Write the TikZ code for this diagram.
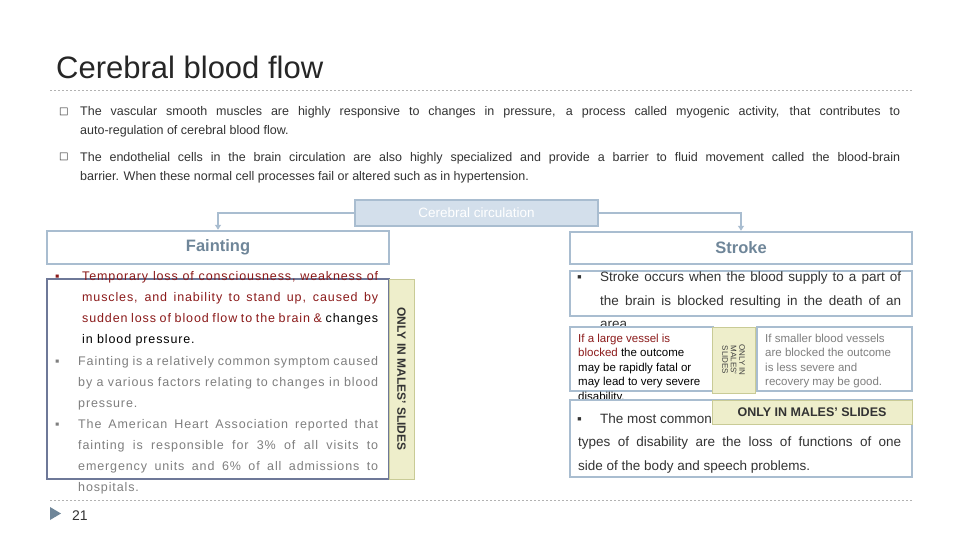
\documentclass[tikz,border=0pt]{standalone}
\usepackage{fontspec}
\setmainfont{Liberation Sans}
\newfontfamily\dejavu{DejaVu Sans}
\newfontfamily\spaced[LetterSpace=7]{Liberation Sans}
\usetikzlibrary{arrows.meta}
\definecolor{hdrb}{HTML}{A9BDD0}
\definecolor{hdrt}{HTML}{6F8699}
\definecolor{darkb}{HTML}{6E7898}
\definecolor{ylw}{HTML}{EEEECB}
\definecolor{ylwb}{HTML}{C9CB96}
\definecolor{ccfill}{HTML}{D3DFEB}
\definecolor{redt}{HTML}{8B1A1A}
\definecolor{greyt}{HTML}{7F7F7F}
\definecolor{txt}{HTML}{333333}
\tikzset{
 hdr/.style={draw=hdrb,line width=2.5pt,fill=white},
 thinbox/.style={draw=hdrb,line width=2pt,fill=white},
 yl/.style={draw=ylwb,line width=1pt,fill=ylw},
 tl/.style={anchor=base west,inner sep=0pt,font=\fontsize{12.5}{14}\selectfont},
 tb/.style={anchor=base west,inner sep=0pt,font=\fontsize{13.5}{14}\selectfont},
 sp/.style={anchor=base west,inner sep=0pt,font=\spaced\fontsize{12.5}{14}\selectfont},
 sm/.style={anchor=base west,inner sep=0pt,font=\fontsize{11.5}{12}\selectfont},
 conn/.style={draw=hdrb,line width=2pt,-{Triangle[length=5pt,width=6pt]}},
}
\newcommand{\jl}[2]{\makebox[#1][s]{#2}}
\begin{document}
\begin{tikzpicture}[x=1pt,y=-1pt]
\useasboundingbox (0,0) rectangle (960,540);
\fill[white] (0,0) rectangle (960,540);
% title
\node[anchor=base west,inner sep=0pt,font=\fontsize{31}{32}\selectfont,text=black!85] (title) at (56,79) {Cerebral blood flow};
\draw[gray!60,dash pattern=on 2pt off 2pt] (50,90) -- (912,90);
\draw[gray!60,dash pattern=on 2pt off 2pt] (50,500) -- (912,500);
% intro bullets
\node[tl,font=\dejavu\fontsize{10}{12}\selectfont,text=txt] (b1) at (59,115) {□};
\node[tl,text=txt] (t1a) at (80,116) {\jl{820pt}{The vascular smooth muscles are highly responsive to changes in pressure, a process called myogenic activity, that contributes to}};
\node[tl,text=txt] (t1b) at (80,135) {auto-regulation of cerebral blood flow.};
\node[tl,font=\dejavu\fontsize{10}{12}\selectfont,text=txt] (b2) at (59,160) {□};
\node[tl,text=txt] (t2a) at (80,161) {\jl{820pt}{The endothelial cells in the brain circulation are also highly specialized and provide a barrier to fluid movement called the blood-brain}};
\node[tl,text=txt] (t2b) at (80,180) {barrier. When these normal cell processes fail or altered such as in hypertension.};
% cerebral circulation
\node[draw=hdrb,line width=2pt,fill=ccfill,minimum width=243pt,minimum height=26pt,inner sep=0pt,text=white,font=\fontsize{13.5}{14}\selectfont] (cc) at (476.5,213) {Cerebral circulation};
\node[hdr,minimum width=342pt,minimum height=33pt,inner sep=0pt,font=\bfseries\fontsize{16.5}{18}\selectfont,text=hdrt] (faint) at (218,247.5) {Fainting};
\node[hdr,minimum width=342pt,minimum height=32pt,inner sep=0pt,font=\bfseries\fontsize{16.5}{18}\selectfont,text=hdrt] (stroke) at (741,248) {Stroke};
\draw[conn] (cc.west) -| (faint.north);
\draw[conn] (cc.east) -| (stroke.north);
% left content box
\node[draw=darkb,line width=2.5pt,minimum width=342pt,minimum height=200pt,inner sep=0pt] (lbox) at (218,379) {};
\node[yl,minimum width=25pt,minimum height=200pt,inner sep=0pt] (ly) at (401.5,379) {};
\node[rotate=-90,font=\bfseries\fontsize{12}{13}\selectfont,text=black!80] (lyt) at (ly.center) {ONLY IN MALES’ SLIDES};
\node[tl,text=redt] (f0) at (55,280) {▪};
\node[sp,text=redt] (f1) at (82,280) {\jl{296pt}{Temporary loss of consciousness, weakness of}};
\node[sp,text=redt] (f2) at (82,301) {\jl{296pt}{muscles, and inability to stand up, caused by}};
\node[sp,text=redt] (f3) at (82,322) {\jl{296pt}{sudden loss of blood flow to the brain \& \textcolor{black}{changes}}};
\node[sp,text=black] (f4) at (82,343) {in blood pressure.};
\node[tl,text=greyt] (g0) at (55,365) {▪};
\node[sp,text=greyt] (g1) at (78,365) {\jl{300pt}{Fainting is a relatively common symptom caused}};
\node[sp,text=greyt] (g2) at (78,386) {\jl{300pt}{by a various factors relating to changes in blood}};
\node[sp,text=greyt] (g3) at (78,407) {pressure.};
\node[tl,text=greyt] (h0) at (55,428) {▪};
\node[sp,text=greyt] (h1) at (78,428) {\jl{300pt}{The American Heart Association reported that}};
\node[sp,text=greyt] (h2) at (78,449) {\jl{300pt}{fainting is responsible for 3\% of all visits to}};
\node[sp,text=greyt] (h3) at (78,470) {\jl{300pt}{emergency units and 6\% of all admissions to}};
\node[sp,text=greyt] (h4) at (78,491) {hospitals.};
% stroke content
\node[thinbox,minimum width=342pt,minimum height=45pt,inner sep=0pt] (s1) at (741,293.5) {};
\node[tb,text=txt] (s1b) at (577,281) {▪};
\node[tb,text=txt] (s1a) at (600,281) {\jl{301pt}{Stroke occurs when the blood supply to a part of}};
\node[tb,text=txt] (s1c) at (600,305) {\jl{301pt}{the brain is blocked resulting in the death of an}};
\node[tb,text=txt] (s1d) at (600,328) {area.};
\node[thinbox,minimum width=143pt,minimum height=64pt,inner sep=0pt] (s2l) at (641.5,359) {};
\node[thinbox,minimum width=155pt,minimum height=64pt,inner sep=0pt] (s2r) at (834.5,359) {};
\node[yl,minimum width=43pt,minimum height=66pt,inner sep=0pt] (s2y) at (733.5,360) {};
\node[rotate=-90,align=center,font=\fontsize{8}{8.5}\selectfont,text=black!75] (s2yt) at (s2y.center) {ONLY IN\\MALES’\\SLIDES};
\node[sm,text=redt] (l1) at (578,342) {If a large vessel is};
\node[sm] (l2) at (578,356.5) {\textcolor{redt}{blocked} the outcome};
\node[sm] (l3) at (578,371) {may be rapidly fatal or};
\node[sm] (l4) at (578,385.5) {may lead to very severe};
\node[sm] (l5) at (578,400) {disability.};
\node[sm,text=greyt] (r1) at (765,342) {If smaller blood vessels};
\node[sm,text=greyt] (r2) at (765,356.5) {are blocked the outcome};
\node[sm,text=greyt] (r3) at (765,371) {is less severe and};
\node[sm,text=greyt] (r4) at (765,385.5) {recovery may be good.};
\node[thinbox,minimum width=342pt,minimum height=77pt,inner sep=0pt] (s3) at (741,438.5) {};
\node[tb,text=txt] (s3b) at (577,423) {▪};
\node[tb,text=txt] (s3a) at (600,423) {The most common};
\node[yl,minimum width=200pt,minimum height=24pt,inner sep=0pt,font=\bfseries\fontsize{12.5}{13}\selectfont,text=black!80] (s3y) at (812,412) {ONLY IN MALES’ SLIDES};
\node[tb,text=txt] (s3c) at (578,446) {\jl{323pt}{types of disability are the loss of functions of one}};
\node[tb,text=txt] (s3d) at (578,470) {side of the body and speech problems.};
% footer
\fill[hdrt] (50,507) -- (61,513.5) -- (50,520) -- cycle;
\node[tl,font=\fontsize{14}{15}\selectfont,text=black!80] (pg) at (72,520) {21};
\end{tikzpicture}
\end{document}
